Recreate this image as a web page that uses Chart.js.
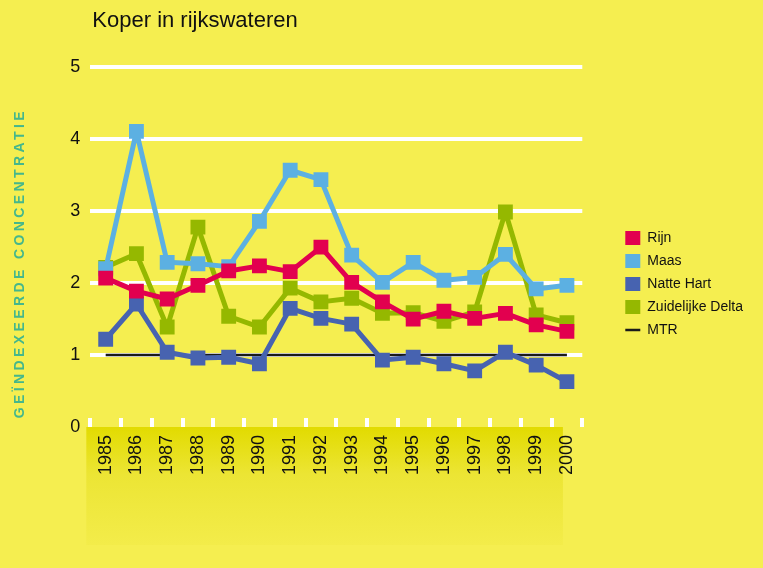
<!DOCTYPE html>
<html>
<head>
<meta charset="utf-8">
<script src="https://cdn.jsdelivr.net/npm/chart.js@4/dist/chart.umd.min.js"></script>
<style>
    html, body { margin: 0; padding: 0; background: #f5ee50; }
    #wrap { width: 763px; height: 568px; }
</style>
</head>
<body>
<div id="wrap"><canvas id="koper"></canvas></div>
<script>
// jaren (x-as)
const jaren = ["1985", "1986", "1987", "1988", "1989", "1990", "1991", "1992",
               "1993", "1994", "1995", "1996", "1997", "1998", "1999", "2000"];

// geindexeerde concentratie per watersysteem
const rijn     = [2.07, 1.89, 1.78, 1.97, 2.17, 2.24, 2.16, 2.50, 2.01, 1.74, 1.50, 1.61, 1.51, 1.58, 1.42, 1.33];
const maas     = [2.20, 4.11, 2.29, 2.27, 2.23, 2.86, 3.57, 3.44, 2.39, 2.01, 2.29, 2.04, 2.08, 2.40, 1.92, 1.97];
const natteHart = [1.22, 1.71, 1.04, 0.96, 0.97, 0.88, 1.65, 1.51, 1.43, 0.93, 0.97, 0.88, 0.78, 1.04, 0.86, 0.63];
const zuidDelta = [2.22, 2.41, 1.39, 2.78, 1.54, 1.39, 1.93, 1.74, 1.79, 1.58, 1.59, 1.47, 1.60, 2.99, 1.56, 1.45];
const mtr      = [1, 1, 1, 1, 1, 1, 1, 1, 1, 1, 1, 1, 1, 1, 1, 1];

// y-as ticks
const yTicks = [0, 1, 2, 3, 4, 5];

const achtergrond = "#f5ee50";
const legendaRuimte = 30; // ruimte tussen grafiek en legenda

// lijn met vierkante punten
function reeks(label, data, kleur) {
    return {
        label: label,
        data: data,
        borderColor: kleur,
        backgroundColor: kleur,
        borderWidth: 5,
        borderJoinStyle: "bevel",
        pointStyle: "rect",
        pointRadius: 10.5,
        pointBorderWidth: 0,
        pointBackgroundColor: kleur,
        tension: 0
    };
}

// achtergrond + gele band onder de jaartallen
const decor = {
    id: "decor",
    beforeLayout(chart) {
        // legenda iets breder maken zodat er ruimte naast de grafiek is
        const lg = chart.legend;
        if (lg && !lg._breder) {
            const fit = lg.fit;
            lg.fit = function () {
                fit.apply(this, arguments);
                this.width += legendaRuimte;
            };
            lg._breder = true;
        }
    },
    afterLayout(chart) {
        // titel links uitlijnen op het grafiekgebied
        if (chart.titleBlock) {
            chart.titleBlock.left = chart.chartArea.left + 2;
        }
        if (chart.legend) {
            chart.legend.left += legendaRuimte + 4;
        }
    },
    beforeDraw(chart) {
        const ctx = chart.ctx;
        const area = chart.chartArea;
        ctx.save();
        ctx.fillStyle = achtergrond;
        ctx.fillRect(0, 0, chart.width, chart.height);
        const x = chart.scales.x;
        const links = area.left - 4;
        const rechts = x.getPixelForValue(jaren.length - 1) - 4;
        const grad = ctx.createLinearGradient(0, area.bottom, 0, 545);
        grad.addColorStop(0, "#e2db00");
        grad.addColorStop(0.4, "#ece534");
        grad.addColorStop(1, "#f3ec4a");
        ctx.fillStyle = grad;
        ctx.fillRect(links, area.bottom, rechts - links, 545 - area.bottom);
        ctx.restore();
    }
};

// y-astitel met letterspatiering
const spatie = {
    id: "spatie",
    beforeDraw(chart) {
        const y = chart.scales.y;
        if (!y || y._gepatcht) return;
        const orig = y.drawTitle;
        y.drawTitle = function () {
            const ctx = this.ctx;
            ctx.save();
            ctx.letterSpacing = "3.4px";
            ctx.translate(0, 16);
            orig.apply(this, arguments);
            ctx.restore();
        };
        y._gepatcht = true;
    }
};

const ctx = document.getElementById("koper");
new Chart(ctx, {
    type: "line",
    data: {
        labels: jaren,
        datasets: [
            reeks("Rijn", rijn, "#e2004f"),
            reeks("Maas", maas, "#5cb0e2"),
            reeks("Natte Hart", natteHart, "#4763b0"),
            reeks("Zuidelijke Delta", zuidDelta, "#95b800"),
            {
                label: "MTR",
                data: mtr,
                borderColor: "#1a1a1a",
                backgroundColor: "#1a1a1a",
                borderWidth: 2.5,
                pointRadius: 0,
                pointStyle: "line"
            }
        ]
    },
    options: {
        responsive: true,
        maintainAspectRatio: false,
        animation: false,
        events: [],
        layout: { padding: { left: 4, right: 14, top: 0, bottom: 0 } },
        plugins: {
            title: {
                display: true,
                text: "Koper in rijkswateren",
                align: "start",
                color: "#111",
                font: { family: "Liberation Sans", size: 22, weight: "normal" },
                padding: { top: 8, bottom: 33 }
            },
            legend: {
                position: "right",
                align: "center",
                labels: {
                    usePointStyle: true,
                    pointStyleWidth: 15,
                    boxHeight: 15,
                    padding: 9,
                    color: "#111",
                    font: { family: "Liberation Sans", size: 14 },
                    generateLabels(chart) {
                        return chart.data.datasets.map((ds, i) => ({
                            text: ds.label,
                            fillStyle: ds.backgroundColor,
                            strokeStyle: ds.borderColor,
                            lineWidth: ds.pointStyle === "line" ? 2.5 : 0,
                            pointStyle: ds.pointStyle,
                            fontColor: "#111",
                            hidden: false,
                            datasetIndex: i
                        }));
                    }
                }
            },
            tooltip: { enabled: false }
        },
        scales: {
            x: {
                type: "category",
                offset: true,
                border: { display: false },
                grid: {
                    offset: true,
                    drawOnChartArea: false,
                    color: "#ffffff",
                    lineWidth: 4,
                    tickLength: -9
                },
                ticks: {
                    minRotation: 90,
                    maxRotation: 90,
                    padding: 17,
                    color: "#111",
                    font: { family: "Liberation Sans", size: 18 }
                },
                afterFit(scale) { scale.height = 141; }
            },
            y: {
                min: 0,
                max: 5,
                afterBuildTicks(scale) {
                    scale.ticks = yTicks.map(v => ({ value: v }));
                },
                border: { display: false },
                grid: {
                    color: c => (c.tick && c.tick.value === 0) ? "rgba(0,0,0,0)" : "#ffffff",
                    lineWidth: 4,
                    drawTicks: false
                },
                ticks: {
                    padding: 10,
                    color: "#111",
                    font: { family: "Liberation Sans", size: 18 }
                },
                title: {
                    display: true,
                    text: "GEÏNDEXEERDE CONCENTRATIE",
                    color: "#45b78b",
                    font: { family: "Liberation Sans", size: 14, weight: "bold" },
                    padding: { top: 8, bottom: 31.5 }
                }
            }
        }
    },
    plugins: [decor, spatie]
});
</script>
</body>
</html>
